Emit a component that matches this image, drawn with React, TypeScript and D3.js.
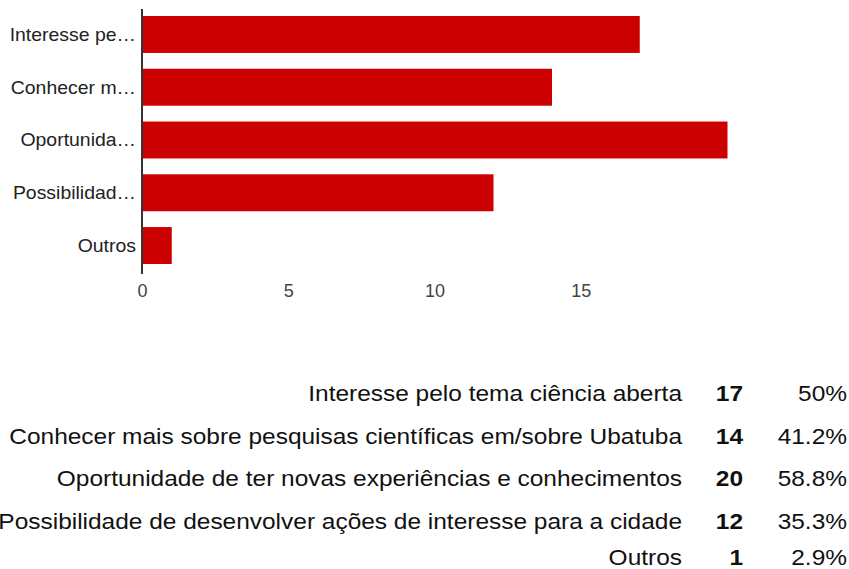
import React from "react";
import * as d3 from "d3";

const categories = [
  "Interesse pelo tema ciência aberta",
  "Conhecer mais sobre pesquisas científicas em/sobre Ubatuba",
  "Oportunidade de ter novas experiências e conhecimentos",
  "Possibilidade de desenvolver ações de interesse para a cidade",
  "Outros",
];
const axisLabels = ["Interesse pe…", "Conhecer m…", "Oportunida…", "Possibilidad…", "Outros"];
const counts = [17, 14, 20, 12, 1];
const percentLabels = ["50%", "41.2%", "58.8%", "35.3%", "2.9%"];
const tickValues = [0, 5, 10, 15];

const W = 849;
const H = 569;
const FONT = "'Liberation Sans', Arial, sans-serif";

export default function App() {
  const x = d3.scaleLinear().domain([0, 20]).range([142.5, 727.5]);
  const y = d3
    .scaleBand<string>()
    .domain(categories)
    .range([16, 264])
    .paddingInner(0.3)
    .paddingOuter(0);

  const legendY = [401, 443.5, 486, 528.5, 564.5];
  const sx = 1.112;

  return (
    <svg
      width={W}
      height={H}
      style={{ position: "absolute", left: 0, top: 0, background: "#fff" }}
      fontFamily={FONT}
    >
      {categories.map((c, i) => (
        <rect
          key={c}
          x={x(0) + 0.5}
          y={y(c)}
          width={x(counts[i]) - x(0) - 0.5}
          height={y.bandwidth()}
          fill="#cc0000"
        />
      ))}
      <line x1={142} x2={142} y1={9} y2={274} stroke="#333" strokeWidth={2} />
      {categories.map((c, i) => (
        <text
          key={c}
          transform={`translate(136,${(y(c) as number) + y.bandwidth() / 2}) scale(1.08,1)`}
          dy="0.35em"
          textAnchor="end"
          fontSize={18}
          fill="#222"
        >
          {axisLabels[i]}
        </text>
      ))}
      {tickValues.map((t) => (
        <text key={t} x={x(t)} y={297} textAnchor="middle" fontSize={18} fill="#444">
          {t}
        </text>
      ))}
      {categories.map((c, i) => (
        <g key={c}>
          <text
            transform={`translate(682,${legendY[i]}) scale(${sx},1)`}
            textAnchor="end"
            fontSize={22}
            fill="#111"
          >
            {c}
          </text>
          <text
            transform={`translate(743,${legendY[i]}) scale(${sx},1)`}
            textAnchor="end"
            fontSize={22}
            fontWeight="bold"
            fill="#111"
          >
            {counts[i]}
          </text>
          <text
            transform={`translate(847,${legendY[i]}) scale(${sx},1)`}
            textAnchor="end"
            fontSize={22}
            fill="#111"
          >
            {percentLabels[i]}
          </text>
        </g>
      ))}
    </svg>
  );
}
